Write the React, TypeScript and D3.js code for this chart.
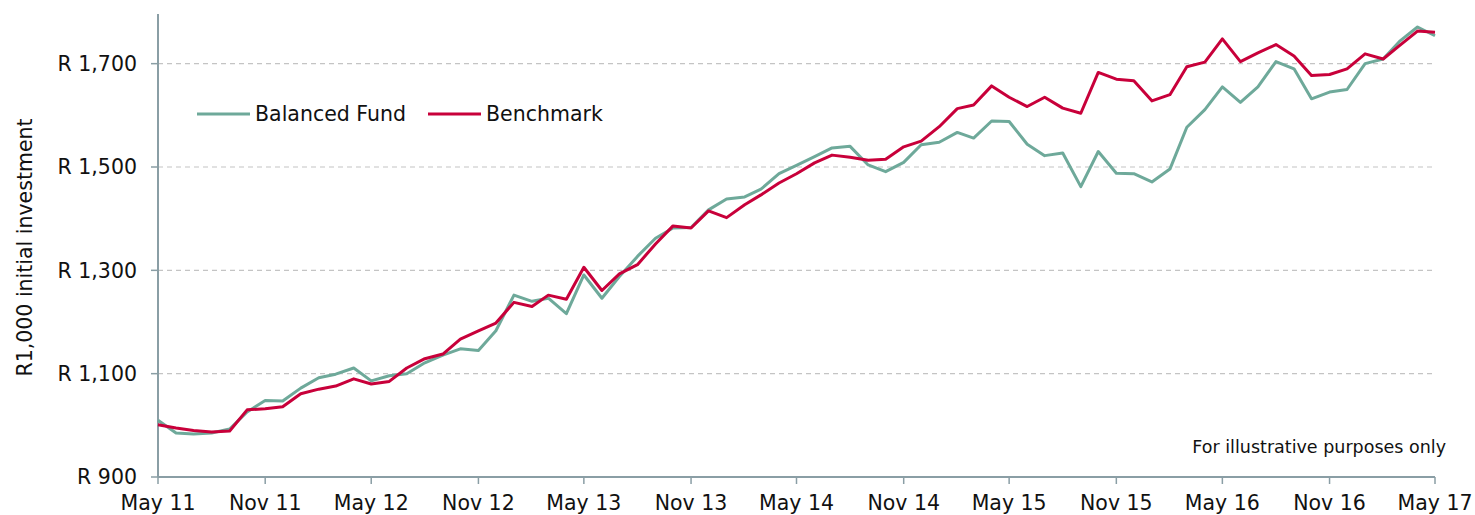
import React from "react";
import * as d3 from "d3";

// monthly values, May 2011 .. May 2017
const fundValues = [
  1010, 985, 983, 985, 993, 1026, 1048, 1047, 1072, 1092, 1099, 1111, 1086,
  1096, 1100, 1121, 1136, 1148, 1145, 1183, 1252, 1240, 1246, 1216, 1291,
  1246, 1288, 1327, 1362, 1382, 1383, 1417, 1438, 1442, 1457, 1487, 1503,
  1520, 1537, 1540, 1504, 1491, 1509, 1543, 1548, 1567, 1556, 1589, 1588,
  1544, 1522, 1527, 1462, 1530, 1488, 1487, 1471, 1496, 1577, 1611, 1655,
  1625, 1655, 1704, 1690, 1632, 1645, 1650, 1700, 1709, 1743, 1771, 1754,
];

const benchmarkValues = [
  1001, 995, 990, 987, 989, 1030, 1032, 1036, 1061, 1070, 1076, 1090, 1080,
  1085, 1111, 1129, 1138, 1167, 1183, 1198, 1238, 1230, 1252, 1244, 1306,
  1261, 1293, 1311, 1351, 1386, 1382, 1415, 1402, 1427, 1446, 1469, 1487,
  1508, 1523, 1519, 1513, 1515, 1539, 1550, 1578, 1613, 1620, 1657, 1635,
  1617, 1635, 1614, 1604, 1683, 1670, 1667, 1628, 1640, 1694, 1703, 1748,
  1704, 1721, 1737, 1715, 1677, 1679, 1690, 1719, 1709, 1735, 1763, 1761,
];

const xTickLabels = [
  "May 11", "Nov 11", "May 12", "Nov 12", "May 13", "Nov 13", "May 14",
  "Nov 14", "May 15", "Nov 15", "May 16", "Nov 16", "May 17",
];
const yTicks = [900, 1100, 1300, 1500, 1700];
const gridValues = [1100, 1300, 1500, 1700];

const seriesNames = ["Balanced Fund", "Benchmark"];
const seriesColors = ["#6ea99a", "#c8003a"];

const width = 1475;
const height = 515;
const margin = { top: 12, right: 40, bottom: 38, left: 158 };
const font = "'DejaVu Sans', Verdana, sans-serif";

const App: React.FC = () => {
  const start = new Date(2011, 4, 1);
  const dates = fundValues.map((_, i) => d3.timeMonth.offset(start, i));
  const tickDates = xTickLabels.map((_, k) => d3.timeMonth.offset(start, k * 6));

  const x = d3
    .scaleTime()
    .domain([dates[0], dates[dates.length - 1]])
    .range([margin.left, width - margin.right]);

  const y = d3
    .scaleLinear()
    .domain([900, 1800])
    .range([height - margin.bottom, margin.top]);

  const line = d3
    .line<number>()
    .x((_, i) => x(dates[i]))
    .y((d) => y(d));

  const axisColor = "#8a9ea5";
  const y0 = y(900);

  return (
    <svg
      width={width}
      height={height}
      style={{ position: "absolute", left: 0, top: 0, background: "#fff" }}
      fontFamily={font}
    >
      {gridValues.map((v) => (
        <line
          key={v}
          x1={margin.left}
          x2={width - margin.right}
          y1={y(v)}
          y2={y(v)}
          stroke="#c4c4c4"
          strokeWidth={1.2}
          strokeDasharray="5,4"
        />
      ))}

      {/* y axis */}
      <line
        x1={margin.left}
        x2={margin.left}
        y1={margin.top + 2}
        y2={y0}
        stroke={axisColor}
        strokeWidth={2}
      />
      {yTicks.map((v) => (
        <g key={v}>
          <line
            x1={margin.left - 7}
            x2={margin.left}
            y1={y(v)}
            y2={y(v)}
            stroke={axisColor}
            strokeWidth={1.5}
          />
          <text
            x={margin.left - 21}
            y={y(v)}
            dy="0.36em"
            textAnchor="end"
            fontSize={20.5}
            fill="#111"
          >
            {"R " + d3.format(",")(v)}
          </text>
        </g>
      ))}

      {/* x axis */}
      <line
        x1={margin.left}
        x2={width - margin.right}
        y1={y0}
        y2={y0}
        stroke={axisColor}
        strokeWidth={2}
      />
      {tickDates.map((d, k) => (
        <g key={xTickLabels[k]}>
          <line
            x1={x(d)}
            x2={x(d)}
            y1={y0}
            y2={y0 + 7}
            stroke={axisColor}
            strokeWidth={1.5}
          />
          <text
            x={x(d)}
            y={height - 5}
            textAnchor="middle"
            fontSize={20.5}
            fill="#111"
          >
            {xTickLabels[k]}
          </text>
        </g>
      ))}

      <text
        transform={`translate(32,${(margin.top + y0) / 2 + 3}) rotate(-90)`}
        textAnchor="middle"
        fontSize={20.5}
        fill="#111"
      >
        R1,000 initial investment
      </text>

      <path
        d={line(fundValues) ?? ""}
        fill="none"
        stroke={seriesColors[0]}
        strokeWidth={3}
        strokeLinejoin="round"
      />
      <path
        d={line(benchmarkValues) ?? ""}
        fill="none"
        stroke={seriesColors[1]}
        strokeWidth={3}
        strokeLinejoin="round"
      />

      {/* legend */}
      {seriesNames.map((name, i) => {
        const lx = i === 0 ? 197 : 428;
        return (
          <g key={name}>
            <line
              x1={lx}
              x2={lx + 53}
              y1={114}
              y2={114}
              stroke={seriesColors[i]}
              strokeWidth={3}
            />
            <text x={lx + 58} y={114} dy="0.36em" fontSize={20.5} fill="#111">
              {name}
            </text>
          </g>
        );
      })}

      <text
        x={1446}
        y={453}
        textAnchor="end"
        fontSize={17.5}
        fill="#111"
      >
        For illustrative purposes only
      </text>
    </svg>
  );
};

export default App;
